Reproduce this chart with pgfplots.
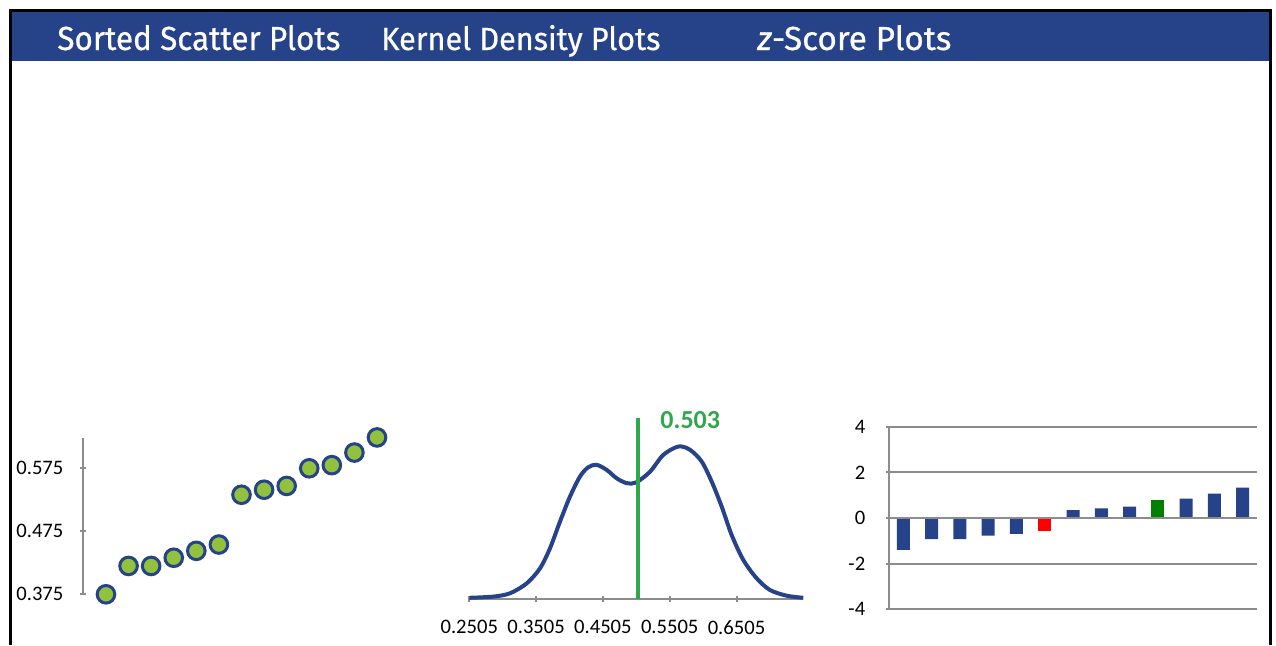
\documentclass[border=0pt]{standalone}
\usepackage{fontspec}
\setmainfont{Carlito}[BoldFont={Carlito Bold}]
\newfontfamily\hdr{Fira Sans}[FakeBold=0.6]
\usepackage{pgfplots}
\pgfplotsset{compat=1.18}

\definecolor{navy}{RGB}{38,66,137}
\definecolor{lime}{RGB}{146,193,62}
\definecolor{kgreen}{RGB}{46,168,74}
\definecolor{axgray}{RGB}{140,140,140}
\definecolor{zred}{RGB}{255,0,0}
\definecolor{zgreen}{RGB}{0,128,0}

\pgfplotsset{
  panel/.style={
    scale only axis, clip=false, anchor=south west,
    tick style={axgray, line width=1pt},
    tick align=outside, major tick length=3pt,
    every tick label/.append style={font=\fontsize{10.3}{12}\selectfont, black},
  },
  plainlines/.style={
    x axis line style={-}, y axis line style={-},
    axis line style={axgray, line width=1pt, -},
  },
}

\begin{document}
\begin{tikzpicture}[x=1pt,y=1pt]
\useasboundingbox (0,0) rectangle (638,322.5);
\fill[white] (0,0) rectangle (638,322.5);

% header band and frame
\fill[navy] (5,292) rectangle (635,317);
\draw[black, line width=1.5pt] (5,0) -- (5,317.5) -- (635,317.5) -- (635,0);
\node[anchor=base west, inner sep=0, white] at (28.5,297.5)
  {\resizebox{141.5pt}{12.5pt}{\hdr Sorted Scatter Plots}};
\node[anchor=base west, inner sep=0, white] at (190.5,297.5)
  {\resizebox{139.5pt}{12.5pt}{\hdr Kernel Density Plots}};
\node[anchor=base west, inner sep=0, white] at (378.5,297.5)
  {\resizebox{97pt}{12.5pt}{\hdr\textit{z}-Score Plots}};

% sorted scatter plot
\begin{axis}[panel,
  at={(41.7pt,25.35pt)},
  width=158.1pt, height=78pt,
  xmin=0, xmax=14, ymin=0.375, ymax=0.6226,
  axis x line=none, axis y line=left, plainlines,
  ytick={0.375,0.475,0.575},
  yticklabels={0.375,0.475,0.575},
  yticklabel style={xshift=-5pt},
]
\addplot[only marks, mark=*, mark size=4.4pt,
  mark options={fill=lime, draw=navy, line width=1.5pt}] coordinates {
  (1,0.375) (2,0.420) (3,0.420) (4,0.433) (5,0.444) (6,0.454)
  (7,0.533) (8,0.541) (9,0.547) (10,0.575) (11,0.580) (12,0.600) (13,0.624)
};
\end{axis}

% kernel density plot
\begin{axis}[panel,
  at={(234.65pt,22.85pt)},
  width=167pt, height=90.65pt,
  xmin=0.2505, xmax=0.7505, ymin=0, ymax=6.04,
  axis y line=none, axis x line=bottom, plainlines,
  xtick={0.2505,0.3505,0.4505,0.5505,0.6505},
  xticklabels={0.2505,0.3505,0.4505,0.5505,0.6505},
  xticklabel style={yshift=-5.5pt},
]
\addplot[navy, line width=2pt, smooth] coordinates {
  (0.2505,0.05) (0.2864,0.09) (0.3114,0.20) (0.3364,0.53) (0.3563,1.03)
  (0.3713,1.70) (0.3863,2.59) (0.4012,3.42) (0.4162,4.09) (0.4286,4.40)
  (0.4412,4.48) (0.4562,4.31) (0.4712,4.03) (0.4861,3.87) (0.5001,3.89)
  (0.5210,4.25) (0.5409,4.81) (0.5634,5.09) (0.5809,4.98) (0.5984,4.59)
  (0.6134,3.92) (0.6283,3.09) (0.6433,2.14) (0.6607,1.31) (0.6807,0.70)
  (0.7006,0.31) (0.7256,0.12) (0.7505,0.05)
};
\addplot[kgreen, line width=2pt] coordinates {(0.503,0) (0.503,6.04)};
\node[kgreen, anchor=west, inner sep=0, font=\bfseries\fontsize{13}{13}\selectfont]
  at (axis cs:0.536,5.98) {0.503};
\end{axis}

% z-score plot
\begin{axis}[panel,
  at={(444.65pt,17.85pt)},
  width=183.7pt, height=91.3pt,
  xmin=0.5, xmax=13.5, ymin=-4, ymax=4,
  axis x line=none, axis y line=left, plainlines,
  xtick=\empty,
  ytick={-4,-2,0,2,4}, yticklabels={-4,-2,0,2,4},
  yticklabel style={xshift=-7pt},
  ymajorgrids, grid style={axgray, line width=1pt},
  axis on top,
  ybar, bar width=6.5pt,
]
\addplot[ybar, bar shift=0pt, fill=navy, draw=none] coordinates {
  (1,-1.40) (2,-0.92) (3,-0.92) (4,-0.77) (5,-0.69)
  (7,0.35) (8,0.42) (9,0.50) (11,0.85) (12,1.07) (13,1.33)
};
\addplot[ybar, bar shift=0pt, fill=zred, draw=none] coordinates {(6,-0.57)};
\addplot[ybar, bar shift=0pt, fill=zgreen, draw=none] coordinates {(10,0.79)};
\end{axis}
\end{tikzpicture}
\end{document}
